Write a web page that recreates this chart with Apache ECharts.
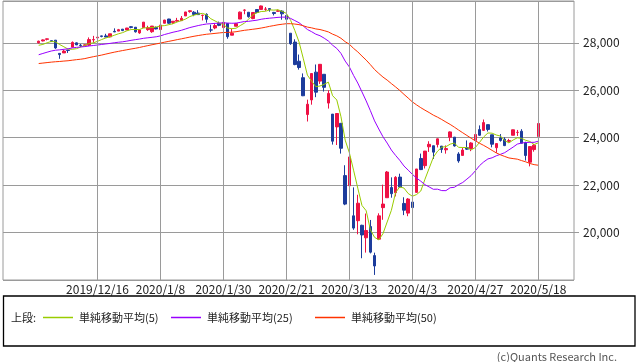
<!DOCTYPE html>
<html>
<head>
<meta charset="utf-8">
<script src="https://cdn.jsdelivr.net/npm/echarts@6/dist/echarts.min.js"></script>
<style>
html,body{margin:0;padding:0;background:#fff;}
#c{width:638px;height:362px;}
</style>
</head>
<body>
<div id="c"></div>
<script>
// Trading dates (NY Dow daily), 2019/11/25 - 2020/5/18
const dates = [
'2019/11/25','2019/11/26','2019/11/27','2019/11/29','2019/12/2','2019/12/3','2019/12/4','2019/12/5','2019/12/6','2019/12/9',
'2019/12/10','2019/12/11','2019/12/12','2019/12/13','2019/12/16','2019/12/17','2019/12/18','2019/12/19','2019/12/20','2019/12/23',
'2019/12/24','2019/12/26','2019/12/27','2019/12/30','2019/12/31','2020/1/2','2020/1/3','2020/1/6','2020/1/7','2020/1/8',
'2020/1/9','2020/1/10','2020/1/13','2020/1/14','2020/1/15','2020/1/16','2020/1/17','2020/1/21','2020/1/22','2020/1/23',
'2020/1/24','2020/1/27','2020/1/28','2020/1/29','2020/1/30','2020/1/31','2020/2/3','2020/2/4','2020/2/5','2020/2/6',
'2020/2/7','2020/2/10','2020/2/11','2020/2/12','2020/2/13','2020/2/14','2020/2/18','2020/2/19','2020/2/20','2020/2/21',
'2020/2/24','2020/2/25','2020/2/26','2020/2/27','2020/2/28','2020/3/2','2020/3/3','2020/3/4','2020/3/5','2020/3/6',
'2020/3/9','2020/3/10','2020/3/11','2020/3/12','2020/3/13','2020/3/16','2020/3/17','2020/3/18','2020/3/19','2020/3/20',
'2020/3/23','2020/3/24','2020/3/25','2020/3/26','2020/3/27','2020/3/30','2020/3/31','2020/4/1','2020/4/2','2020/4/3',
'2020/4/6','2020/4/7','2020/4/8','2020/4/9','2020/4/13','2020/4/14','2020/4/15','2020/4/16','2020/4/17','2020/4/20',
'2020/4/21','2020/4/22','2020/4/23','2020/4/24','2020/4/27','2020/4/28','2020/4/29','2020/4/30','2020/5/1','2020/5/4',
'2020/5/5','2020/5/6','2020/5/7','2020/5/8','2020/5/11','2020/5/12','2020/5/13','2020/5/14','2020/5/15','2020/5/18'
];
const opens = [
28000,28076,28145,28089,28109,27553,27571,27690,27815,27996,
27900,27891,27899,28124,28207,28290,28288,28249,28481,28491,
28573,28539,28676,28654,28415,28638,28553,28465,28639,28556,
28823,29000,28857,28911,28933,29130,29313,29287,29251,29152,
29197,28541,28623,28820,28640,28813,28319,28697,28999,29370,
29286,29019,29400,29406,29411,29440,29279,29326,29334,29149,
28402,28028,27220,26527,24974,25591,26762,26383,26671,25457,
24992,24453,24604,22400,21974,20705,20500,20306,19779,20253,
19029,19722,21050,21468,21898,21678,22337,21227,20819,21285,
21693,23123,22820,23615,23659,23712,23644,23488,24020,24022,
23312,23252,23576,23537,23883,24339,24307,24549,24120,23577,
23990,23935,23847,24100,24221,24270,23787,22966,23497,24049
];
const highs = [
28088,28144,28175,28089,28109,27553,27714,27690,28055,28012,
27948,27925,28225,28290,28337,28299,28378,28377,28607,28583,
28576,28624,28701,28664,28547,28873,28716,28708,28685,28866,
28966,29009,28907,29049,29127,29298,29373,29332,29374,29183,
29242,28762,28817,28892,28879,28813,28595,28837,29317,29408,
29286,29277,29415,29568,29506,29441,29300,29400,29374,29149,
28402,28147,27503,26707,25601,26703,27084,27091,26671,25994,
24992,25020,24604,22837,23186,21904,21593,20329,20801,20531,
19153,20811,22019,22595,22327,22378,22481,21487,21451,21447,
22680,23328,23434,23849,23659,23964,23645,23672,24264,24022,
23388,23578,23883,23807,24177,24516,24765,24549,24120,23763,
24151,24012,23950,24336,24325,24357,23827,23630,23731,24765
];
const lows = [
27970,28057,28098,28031,27745,27325,27571,27569,27815,27905,
27816,27857,27859,28003,28207,28230,28238,28230,28451,28491,
28490,28535,28608,28428,28377,28627,28502,28419,28565,28522,
28817,28796,28788,28890,28933,29130,29268,29120,29170,28941,
28844,28441,28570,28699,28510,28169,28319,28697,28999,29202,
29056,28992,29246,29406,29345,29310,29151,29309,28972,28893,
27912,27053,26868,25751,24681,25390,25706,26266,25943,25226,
23707,23690,23328,21154,21286,20116,19928,18918,19154,19121,
18214,19722,20538,21469,21469,21523,21886,20735,20689,20863,
21693,22634,22700,23398,23101,23587,23359,23326,23849,23623,
22942,23252,23484,23431,23876,24074,24281,24259,23591,23361,
23832,23645,23794,24100,24071,23764,23035,22790,23408,23925
];
const closes = [
28066,28121,28164,28051,27783,27502,27649,27677,28015,27909,
27881,27911,28132,28135,28235,28267,28239,28377,28455,28551,
28515,28621,28645,28462,28538,28869,28634,28703,28583,28745,
28957,28824,28907,28940,29030,29298,29348,29196,29186,29160,
28990,28535,28723,28734,28859,28256,28400,28807,29291,29379,
29102,29276,29276,29551,29423,29398,29232,29348,29219,28992,
27961,27081,26957,25766,25409,26703,25917,27091,26121,25865,
23851,25018,23553,21200,23186,20189,21237,19899,20087,19174,
18592,20704,21201,22552,21637,22327,21917,20943,21413,21053,
22680,22654,23434,23719,23390,23950,23505,23538,24242,23650,
23019,23475,23515,23775,24134,24101,24634,24346,23724,23750,
23883,23664,23875,24331,24222,23765,23248,23625,23685,24597
];
// Simple moving averages as shown on the chart
const ma5 = [
27893,27930,27999,28056,28037,27924,27830,27732,27725,27750,
27826,27879,27970,27994,28059,28136,28202,28251,28315,28378,
28427,28504,28557,28559,28556,28627,28630,28641,28665,28707,
28724,28762,28803,28875,28932,29000,29105,29162,29212,29238,
29176,29013,28919,28828,28768,28621,28594,28611,28723,28827,
28996,29171,29265,29317,29326,29385,29376,29390,29324,29238,
28950,28520,28042,27351,26635,26383,26150,26177,26248,26339,
25769,25589,24882,23897,23362,22629,21873,21142,20920,20117,
19798,19691,19952,20445,20937,21684,21927,21875,21647,21531,
21601,21749,22247,22708,23175,23429,23600,23620,23725,23777,
23591,23585,23580,23487,23584,23800,24032,24198,24188,24111,
24067,23873,23779,23901,23995,23971,23888,23838,23709,23784
];
const ma25 = [
27495,27549,27602,27652,27685,27701,27724,27744,27783,27805,
27822,27839,27864,27883,27905,27928,27950,27973,28000,28022,
28041,28069,28102,28130,28156,28188,28209,28230,28252,28290,
28348,28395,28444,28481,28526,28583,28640,28683,28725,28762,
28791,28803,28817,28828,28840,28830,28821,28827,28861,28894,
28903,28929,28952,28991,29018,29036,29052,29070,29081,29079,
29026,28935,28845,28709,28559,28467,28362,28297,28193,28073,
27897,27761,27551,27228,26980,26623,26302,25927,25548,25138,
24706,24365,24039,23772,23478,23253,23046,22806,22631,22457,
22296,22166,22019,21923,21824,21828,21768,21767,21889,21907,
22021,22110,22255,22402,22601,22821,22978,23104,23151,23236,
23298,23368,23485,23602,23728,23772,23796,23803,23802,23850
];
const ma50 = [
27124,27144,27164,27183,27200,27211,27228,27242,27265,27287,
27306,27333,27374,27412,27446,27481,27523,27564,27603,27637,
27672,27704,27737,27766,27801,27842,27879,27916,27952,27987,
28025,28060,28094,28132,28166,28202,28239,28274,28304,28333,
28359,28376,28395,28414,28431,28436,28445,28465,28495,28525,
28546,28569,28591,28621,28654,28692,28724,28757,28781,28803,
28804,28788,28764,28717,28660,28629,28583,28557,28510,28456,
28363,28291,28189,28044,27937,27763,27615,27439,27269,27078,
26871,26708,26554,26426,26279,26139,25991,25826,25670,25508,
25382,25264,25158,25058,24949,24863,24765,24659,24558,24444,
24322,24206,24091,23975,23869,23764,23672,23572,23462,23357,
23275,23207,23145,23117,23093,23034,22981,22911,22863,22837
];
const tickDates = ['2019/12/16','2020/1/8','2020/1/30','2020/2/21','2020/3/13','2020/4/3','2020/4/27','2020/5/18'];
const yTicks = [20000,22000,24000,26000,28000];
const seriesNames = ['単純移動平均(5)','単純移動平均(25)','単純移動平均(50)'];
const seriesColors = ['#99cc00','#9900ff','#ff3300'];

const PAD_L = 8, PAD_R = 8;
const cats = [];
for (let i = 0; i < PAD_L; i++) cats.push('padL' + i);
dates.forEach(d => cats.push(d));
for (let i = 0; i < PAD_R; i++) cats.push('padR' + i);
const pad = (arr) => {
  const out = [];
  for (let i = 0; i < PAD_L; i++) out.push('-');
  arr.forEach(v => out.push(v));
  for (let i = 0; i < PAD_R; i++) out.push('-');
  return out;
};
const kdata = pad(dates.map((d, i) => [opens[i], closes[i], lows[i], highs[i]]));
const tickSet = new Set(tickDates);
const FONT = '"Noto Sans CJK JP", "Noto Sans", sans-serif';

const chart = echarts.init(document.getElementById('c'), null, {renderer: 'canvas'});
chart.setOption({
  animation: false,
  backgroundColor: '#fff',
  textStyle: {fontFamily: FONT},
  grid: {left: 3, top: 1, width: 571, height: 279, show: true, borderColor: '#9a9a9a', borderWidth: 1, containLabel: false},
  xAxis: {
    type: 'category',
    data: cats,
    boundaryGap: true,
    axisLine: {show: false},
    axisTick: {show: false},
    splitLine: {show: false},
    axisLabel: {
      interval: (idx, val) => tickSet.has(val),
      formatter: (v) => tickSet.has(v) ? v : '',
      color: '#222', fontSize: 12, fontFamily: FONT, margin: 3
    }
  },
  yAxis: {
    type: 'value',
    position: 'right',
    min: 18000, max: 29760, interval: 2000,
    axisLine: {show: false},
    axisTick: {show: true, length: 5, lineStyle: {color: '#9a9a9a'}},
    splitLine: {show: true, lineStyle: {color: '#9a9a9a', width: 1}},
    axisLabel: {
      showMinLabel: false, showMaxLabel: false,
      color: '#222', fontSize: 12, fontFamily: FONT, margin: 9,
      formatter: (v) => yTicks.includes(v) ? v.toLocaleString('en-US') : ''
    }
  },
  legend: seriesNames.map((n, i) => ({
    data: [n],
    left: [43, 171, 315][i],
    top: 312,
    icon: 'rect',
    itemWidth: 30, itemHeight: 1.5,
    itemGap: 0,
    textStyle: {fontSize: 11, color: '#222', fontFamily: FONT, padding: [0, 0, 0, 1]},
    padding: 0,
    selectedMode: false
  })),
  graphic: [
    {type: 'rect', shape: {x: 3.5, y: 296, width: 631.5, height: 50}, style: {fill: 'none', stroke: '#000', lineWidth: 1.3}, silent: true},
    {type: 'text', left: 11, top: 312, style: {text: '上段:', fontSize: 11, fill: '#222', fontFamily: FONT}, silent: true},
    {type: 'text', right: 21, top: 351, style: {text: '(c)Quants Research Inc.', fontSize: 11, fill: '#555', fontFamily: FONT}, silent: true}
  ],
  series: [
    {
      type: 'line', name: 'grid', data: pad(dates.map(() => '-')), silent: true, z: 1,
      markLine: {
        silent: true, symbol: 'none', label: {show: false}, animation: false,
        lineStyle: {color: '#9a9a9a', type: 'solid', width: 1},
        data: tickDates.map(d => ({xAxis: d}))
      }
    },
    {
      type: 'candlestick', name: 'price', data: kdata, z: 3, barWidth: 3,
      itemStyle: {color: '#ee1144', color0: '#1c3c9c', borderColor: '#ee1144', borderColor0: '#1c3c9c', borderWidth: 1}
    },
    {type: 'line', name: seriesNames[0], data: pad(ma5), z: 4, showSymbol: false, symbol: 'none', lineStyle: {color: seriesColors[0], width: 1}, itemStyle: {color: seriesColors[0]}},
    {type: 'line', name: seriesNames[1], data: pad(ma25), z: 4, showSymbol: false, symbol: 'none', lineStyle: {color: seriesColors[1], width: 1}, itemStyle: {color: seriesColors[1]}},
    {type: 'line', name: seriesNames[2], data: pad(ma50), z: 4, showSymbol: false, symbol: 'none', lineStyle: {color: seriesColors[2], width: 1}, itemStyle: {color: seriesColors[2]}}
  ]
});
</script>
</body>
</html>
